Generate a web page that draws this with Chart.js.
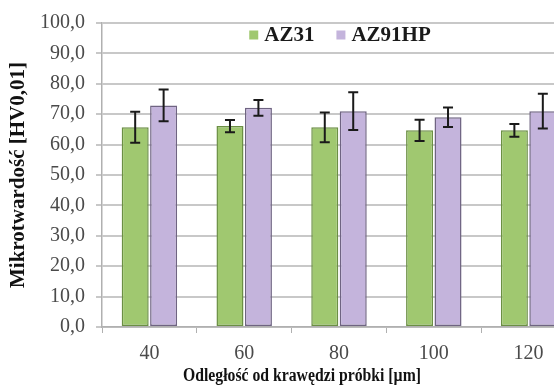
<!DOCTYPE html>
<html>
<head>
<meta charset="utf-8">
<script src="https://cdn.jsdelivr.net/npm/chart.js@4.4.1/dist/chart.umd.min.js"></script>
<style>
  html, body { margin: 0; padding: 0; background: #fff; overflow: hidden; }
  #wrap { position: relative; width: 576px; height: 385px; }
</style>
</head>
<body>
<div id="wrap"><canvas id="chart"></canvas></div>
<script>
/* ── Data ─────────────────────────────────────────────── */
const distances  = ['40', '60', '80', '100', '120'];
const az31       = [65.7, 66.1, 65.7, 64.7, 64.7];
const az31Err    = [5.1, 2.0, 4.9, 3.5, 2.1];
const az91hp     = [72.9, 72.1, 71.0, 69.0, 71.0];
const az91hpErr  = [5.2, 2.6, 6.2, 3.2, 5.7];
const xTitle     = 'Odległość od krawędzi próbki [µm]';
const yTitle     = 'Mikrotwardość [HV0,01]';

const SERIF = "'Liberation Serif', 'Times New Roman', serif";

/* error bars drawn through the scales */
const errorBars = {
  id: 'errorBars',
  afterDatasetsDraw(chart) {
    const { ctx, scales: { y } } = chart;
    ctx.save();
    ctx.strokeStyle = '#1a1a1a';
    ctx.lineWidth = 2;
    chart.data.datasets.forEach((ds, di) => {
      chart.getDatasetMeta(di).data.forEach((bar, i) => {
        const v = ds.data[i], e = ds.errors[i];
        const yTop = y.getPixelForValue(v + e);
        const yBot = y.getPixelForValue(v - e);
        const x = bar.x;
        ctx.beginPath();
        ctx.moveTo(x, yTop); ctx.lineTo(x, yBot);
        ctx.moveTo(x - 5, yTop); ctx.lineTo(x + 5, yTop);
        ctx.moveTo(x - 5, yBot); ctx.lineTo(x + 5, yBot);
        ctx.stroke();
      });
    });
    ctx.restore();
  },
};

/* legend inside the plot area + x title (centred on the uncropped figure) */
const innerLegend = {
  id: 'innerLegend',
  afterDraw(chart) {
    const { ctx } = chart;
    ctx.save();
    ctx.font = "bold 21px " + SERIF;
    ctx.textBaseline = 'middle';
    const yMid = 35;
    const items = chart.data.datasets.map(ds => ({ label: ds.label, fill: ds.backgroundColor }));
    const gap = 22, box = 9, boxGap = 6;
    const widths = items.map(it => box + boxGap + ctx.measureText(it.label).width);
    const total = widths.reduce((a, b) => a + b, 0) + gap * (items.length - 1);
    let x = 340 - total / 2;
    items.forEach((it, i) => {
      ctx.fillStyle = it.fill;
      ctx.fillRect(x, yMid - box / 2, box, box);
      ctx.fillStyle = '#1a1a1a';
      ctx.fillText(it.label, x + box + boxGap, yMid + 1);
      x += widths[i] + gap;
    });

    // x title: tall but narrow, as in the source image
    ctx.font = "bold 18px " + SERIF;
    ctx.textAlign = 'center';
    ctx.fillStyle = '#111';
    const sx = 238 / ctx.measureText(xTitle).width;
    ctx.translate(302, 376);
    ctx.scale(sx, 1);
    ctx.fillText(xTitle, 0, 0);
    ctx.restore();
  },
};

new Chart(document.getElementById('chart'), {
  type: 'bar',
  data: {
    labels: distances,
    datasets: [
      {
        label: 'AZ31', data: az31, errors: az31Err,
        backgroundColor: '#a0c870', borderColor: '#6b8f44',
        borderWidth: 1.5, borderSkipped: false,
      },
      {
        label: 'AZ91HP', data: az91hp, errors: az91hpErr,
        backgroundColor: '#c4b4dc', borderColor: '#6f6482',
        borderWidth: 1.5, borderSkipped: false,
      },
    ],
  },
  options: {
    responsive: true,
    maintainAspectRatio: false,
    animation: false,
    categoryPercentage: 0.6,
    barPercentage: 0.95,
    layout: { padding: { top: 22, right: 0, left: 6, bottom: 2 } },
    plugins: {
      legend: { display: false },
      tooltip: { enabled: false },
    },
    scales: {
      x: {
        grid: { drawOnChartArea: false, offset: true, tickLength: 6, color: '#b0b0b0', lineWidth: 1 },
        border: { color: '#b0b0b0', width: 1.5 },
        ticks: { color: '#4a4a4a', font: { family: SERIF, size: 20 }, padding: 9 },
        afterFit(s) { s.height = 56; },
      },
      y: {
        min: 0, max: 100,
        grid: { color: '#c8c8c8', lineWidth: 2, tickLength: 6 },
        border: { color: '#b0b0b0', width: 1.5 },
        ticks: {
          stepSize: 10, color: '#4a4a4a', padding: 11,
          font: { family: SERIF, size: 20 },
          callback: v => v.toFixed(1).replace('.', ','),
        },
        title: {
          display: true, text: yTitle,
          color: '#111', font: { family: SERIF, size: 21, weight: 'bold' }, padding: { top: 0, bottom: 4 },
        },
        afterFit(s) { s.width = 96; },
      },
    },
  },
  plugins: [errorBars, innerLegend],
});
</script>
</body>
</html>
